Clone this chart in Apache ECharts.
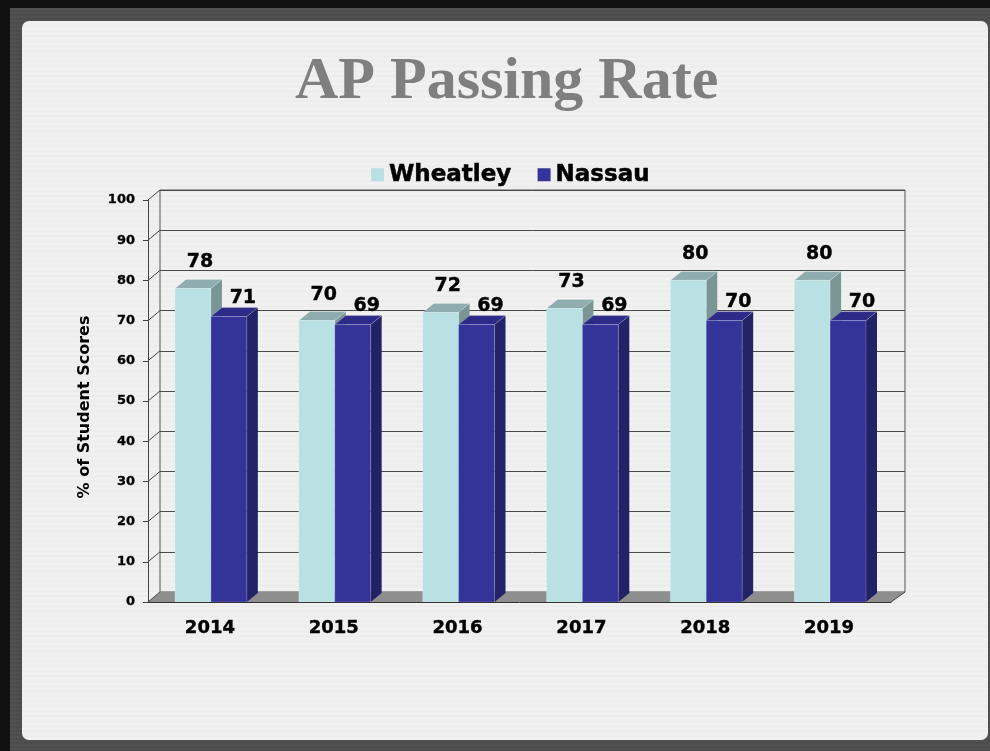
<!DOCTYPE html>
<html>
<head>
<meta charset="utf-8">
<title>AP Passing Rate</title>
<script src="https://cdn.jsdelivr.net/npm/echarts@6/dist/echarts.min.js"></script>
<style>
    html, body {
        margin: 0;
        padding: 0;
        width: 990px;
        height: 751px;
        overflow: hidden;
        background: #4e4e4e;
    }
    #frame {
        position: absolute;
        left: 0;
        top: 0;
        width: 990px;
        height: 751px;
        box-sizing: border-box;
        border-top: 8px solid #111;
        border-left: 10px solid #111;
        background: repeating-linear-gradient(0deg, #4a4a4a 0px, #525252 2px, #4a4a4a 4px);
    }
    #slide {
        position: absolute;
        left: 22px;
        top: 21px;
        width: 966px;
        height: 719px;
        border-radius: 7px;
        background: repeating-linear-gradient(0deg, #efefef 0px, #f2f2f1 2px, #ececec 3px, #efefef 5px);
    }
    #chart {
        position: absolute;
        left: 0;
        top: 0;
        width: 990px;
        height: 751px;
    }
</style>
</head>
<body>
<div id="frame"></div>
<div id="slide"></div>
<div id="chart"></div>
<script>
    // values
    const years = ['2014', '2015', '2016', '2017', '2018', '2019'];
    const wheatley = [78, 70, 72, 73, 80, 80];
    const nassau = [71, 69, 69, 69, 70, 70];
    const yTicks = [0, 10, 20, 30, 40, 50, 60, 70, 80, 90, 100];

    const FONT = 'DejaVu Sans';
    const BAR_RATIO = 0.29;     // bar width / category band
    const PAIR_SHIFT = 1;
    const BX = 11, BY = 9;      // bar depth
    const WX = 12, WY = 10;     // wall depth (left side)
    const WX_R = 14;            // wall depth (right side)

    let chart = echarts.init(document.getElementById('chart'));

    // one 3d-ish bar per item: side, top, front, then the value label
    function makeBars(left, colors, labelDx, labelUp) {
        return function (params, api) {
            let i = api.value(0);
            let v = api.value(1);
            let pTop = api.coord([i, v]);
            let pBase = api.coord([i, 0]);
            let w = api.size([1, 0])[0] * BAR_RATIO;
            let x0 = pTop[0] + PAIR_SHIFT + (left ? -w : 0);
            let ty = pTop[1];
            let by = pBase[1];

            return {
                type: 'group',
                children: [
                    {
                        type: 'polygon',
                        shape: {points: [[x0 + w, ty], [x0 + w + BX, ty - BY], [x0 + w + BX, by - BY], [x0 + w, by]]},
                        style: {fill: colors.side}
                    },
                    {
                        type: 'polygon',
                        shape: {points: [[x0, ty], [x0 + w, ty], [x0 + w + BX, ty - BY], [x0 + BX, ty - BY]]},
                        style: {fill: colors.top, stroke: 'rgba(255,255,255,0.35)', lineWidth: 0.6}
                    },
                    {
                        type: 'rect',
                        shape: {x: x0, y: ty, width: w, height: by - ty},
                        style: {fill: colors.front, stroke: 'rgba(255,255,255,0.35)', lineWidth: 0.6}
                    },
                    {
                        type: 'text',
                        z2: 10,
                        style: {
                            text: String(v),
                            x: x0 + w / 2 + labelDx,
                            y: ty - BY - labelUp,
                            align: 'center',
                            verticalAlign: 'middle',
                            fill: '#000',
                            stroke: '#000',
                            lineWidth: 0.4,
                            fontFamily: FONT,
                            fontWeight: 'bold',
                            fontSize: 19
                        }
                    }
                ]
            };
        };
    }

    // gray floor plus the right edge of the box
    function renderFloor(params, api) {
        let r = params.coordSys;
        let fy = r.y + r.height;
        return {
            type: 'group',
            children: [
                {
                    type: 'polygon',
                    shape: {points: [[r.x, fy], [r.x + r.width, fy], [r.x + r.width + WX_R, fy - WY], [r.x + WX, fy - WY]]},
                    style: {fill: '#8e8e8e'}
                },
                {
                    type: 'polyline',
                    shape: {points: [[r.x + r.width, fy], [r.x + r.width + WX_R, fy - WY]]},
                    style: {stroke: '#444', lineWidth: 1, fill: null}
                }
            ]
        };
    }

    // diagonal lines on the left side wall, one per tick
    function renderSideWall(params, api) {
        let r = params.coordSys;
        let y = api.coord([0, api.value(1)])[1];
        return {
            type: 'line',
            shape: {x1: r.x, y1: y, x2: r.x + WX, y2: y - WY},
            style: {stroke: '#444', lineWidth: 1}
        };
    }

    let option = {
        animation: false,
        graphic: [{
            type: 'text',
            left: 295,
            top: 52,
            style: {
                text: 'AP Passing Rate',
                fontFamily: 'Liberation Serif',
                fontWeight: 'bold',
                fontSize: 60,
                fill: '#7f7f7f'
            }
        }],
        legend: {
            left: 366,
            top: 158,
            icon: 'rect',
            itemWidth: 13,
            itemHeight: 13,
            itemGap: 26,
            data: ['Wheatley', 'Nassau'],
            textStyle: {
                fontFamily: FONT,
                fontWeight: 'bold',
                fontSize: 23,
                color: '#000',
                textBorderColor: '#000',
                textBorderWidth: 0.5
            }
        },
        grid: [
            // front plane: bars, axes and labels
            {left: 148, top: 200, width: 743, height: 402},
            // back wall: gridlines and box border
            {left: 160, top: 190, width: 745, height: 402, show: true, borderColor: '#555', borderWidth: 1, backgroundColor: 'transparent'}
        ],
        xAxis: [
            {
                type: 'category',
                gridIndex: 0,
                data: years,
                axisLine: {lineStyle: {color: '#333', width: 1}},
                axisTick: {length: 5, lineStyle: {color: '#555'}},
                axisLabel: {
                    margin: 17,
                    color: '#000',
                    fontFamily: FONT,
                    fontWeight: 'bold',
                    fontSize: 18,
                    textBorderColor: '#000',
                    textBorderWidth: 0.4
                },
                z: 5
            },
            {type: 'value', gridIndex: 1, show: false, min: 0, max: 1}
        ],
        yAxis: [
            {
                type: 'value',
                gridIndex: 0,
                min: 0,
                max: 100,
                interval: 10,
                name: '% of Student Scores',
                nameLocation: 'middle',
                nameRotate: 90,
                nameGap: 55,
                nameTextStyle: {
                    color: '#000',
                    fontFamily: FONT,
                    fontWeight: 'bold',
                    fontSize: 16,
                    padding: [0, 12, 0, 0]
                },
                axisLine: {show: true, lineStyle: {color: '#444'}},
                axisTick: {show: true, length: 5, lineStyle: {color: '#444'}},
                axisLabel: {
                    margin: 13,
                    color: '#000',
                    fontFamily: FONT,
                    fontWeight: 'bold',
                    fontSize: 13,
                    textBorderColor: '#000',
                    textBorderWidth: 0.3
                },
                splitLine: {show: false}
            },
            {
                type: 'value',
                gridIndex: 1,
                min: 0,
                max: 100,
                interval: 10,
                axisLine: {show: false},
                axisTick: {show: false},
                axisLabel: {show: false},
                splitLine: {show: true, lineStyle: {color: '#4a4a4a', width: 1}}
            }
        ],
        series: [
            {
                type: 'custom',
                xAxisIndex: 0,
                yAxisIndex: 0,
                silent: true,
                z: 1,
                renderItem: renderFloor,
                data: [[0, 0]]
            },
            {
                type: 'custom',
                xAxisIndex: 0,
                yAxisIndex: 0,
                silent: true,
                z: 1,
                renderItem: renderSideWall,
                data: yTicks.map(function (v) {
                    return [0, v];
                })
            },
            {
                name: 'Wheatley',
                type: 'custom',
                xAxisIndex: 0,
                yAxisIndex: 0,
                z: 3,
                itemStyle: {color: '#b9e1e3'},
                renderItem: makeBars(true, {front: '#b9e1e3', top: '#8fadae', side: '#7b9597'}, 7, 17),
                data: wheatley.map(function (v, i) {
                    return [i, v];
                })
            },
            {
                name: 'Nassau',
                type: 'custom',
                xAxisIndex: 0,
                yAxisIndex: 0,
                z: 4,
                itemStyle: {color: '#333399'},
                renderItem: makeBars(false, {front: '#333399', top: '#2c2c88', side: '#222266'}, 14, 10),
                data: nassau.map(function (v, i) {
                    return [i, v];
                })
            }
        ]
    };

    chart.setOption(option);
</script>
</body>
</html>
